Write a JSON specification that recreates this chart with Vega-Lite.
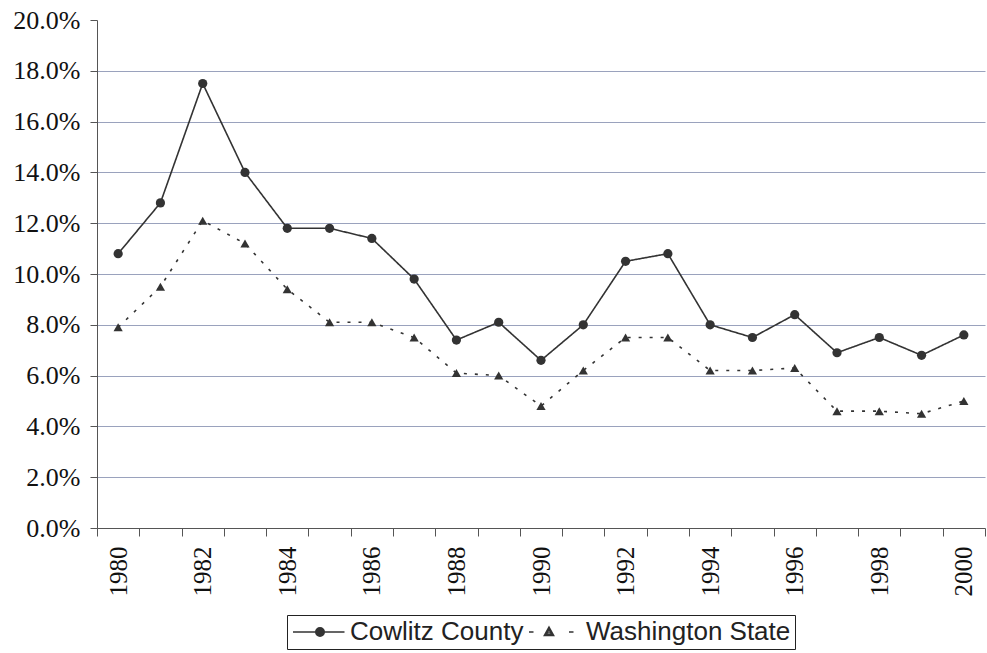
{
  "$schema": "https://vega.github.io/schema/vega-lite/v6.json",
  "width": 888,
  "height": 508,
  "autosize": {"type": "none"},
  "padding": {"left": 97, "top": 20, "right": 2, "bottom": 125},
  "background": "white",
  "config": {
    "view": {"stroke": null},
    "axis": {"domainColor": "#555", "tickColor": "#555", "labelColor": "#111"},
    "legend": {"layout": {"bottom": {"anchor": "middle"}}}
  },
  "data": {
    "values": [
      {"year": 1980, "region": "Cowlitz County", "rate": 0.108},
      {"year": 1981, "region": "Cowlitz County", "rate": 0.128},
      {"year": 1982, "region": "Cowlitz County", "rate": 0.175},
      {"year": 1983, "region": "Cowlitz County", "rate": 0.140},
      {"year": 1984, "region": "Cowlitz County", "rate": 0.118},
      {"year": 1985, "region": "Cowlitz County", "rate": 0.118},
      {"year": 1986, "region": "Cowlitz County", "rate": 0.114},
      {"year": 1987, "region": "Cowlitz County", "rate": 0.098},
      {"year": 1988, "region": "Cowlitz County", "rate": 0.074},
      {"year": 1989, "region": "Cowlitz County", "rate": 0.081},
      {"year": 1990, "region": "Cowlitz County", "rate": 0.066},
      {"year": 1991, "region": "Cowlitz County", "rate": 0.080},
      {"year": 1992, "region": "Cowlitz County", "rate": 0.105},
      {"year": 1993, "region": "Cowlitz County", "rate": 0.108},
      {"year": 1994, "region": "Cowlitz County", "rate": 0.080},
      {"year": 1995, "region": "Cowlitz County", "rate": 0.075},
      {"year": 1996, "region": "Cowlitz County", "rate": 0.084},
      {"year": 1997, "region": "Cowlitz County", "rate": 0.069},
      {"year": 1998, "region": "Cowlitz County", "rate": 0.075},
      {"year": 1999, "region": "Cowlitz County", "rate": 0.068},
      {"year": 2000, "region": "Cowlitz County", "rate": 0.076},
      {"year": 1980, "region": "Washington State", "rate": 0.079},
      {"year": 1981, "region": "Washington State", "rate": 0.095},
      {"year": 1982, "region": "Washington State", "rate": 0.121},
      {"year": 1983, "region": "Washington State", "rate": 0.112},
      {"year": 1984, "region": "Washington State", "rate": 0.094},
      {"year": 1985, "region": "Washington State", "rate": 0.081},
      {"year": 1986, "region": "Washington State", "rate": 0.081},
      {"year": 1987, "region": "Washington State", "rate": 0.075},
      {"year": 1988, "region": "Washington State", "rate": 0.061},
      {"year": 1989, "region": "Washington State", "rate": 0.060},
      {"year": 1990, "region": "Washington State", "rate": 0.048},
      {"year": 1991, "region": "Washington State", "rate": 0.062},
      {"year": 1992, "region": "Washington State", "rate": 0.075},
      {"year": 1993, "region": "Washington State", "rate": 0.075},
      {"year": 1994, "region": "Washington State", "rate": 0.062},
      {"year": 1995, "region": "Washington State", "rate": 0.062},
      {"year": 1996, "region": "Washington State", "rate": 0.063},
      {"year": 1997, "region": "Washington State", "rate": 0.046},
      {"year": 1998, "region": "Washington State", "rate": 0.046},
      {"year": 1999, "region": "Washington State", "rate": 0.045},
      {"year": 2000, "region": "Washington State", "rate": 0.050}
    ]
  },
  "encoding": {
    "x": {
      "field": "year",
      "type": "ordinal",
      "scale": {"type": "band", "paddingInner": 0, "paddingOuter": 0},
      "axis": {
        "title": null,
        "tickBand": "extent",
        "tickSize": 8,
        "labelAngle": -90,
        "labelPadding": 10,
        "labelFont": "Liberation Serif",
        "labelFontSize": 25,
        "labelExpr": "datum.value % 2 == 0 ? datum.label : ''",
        "grid": false
      }
    },
    "y": {
      "field": "rate",
      "type": "quantitative",
      "scale": {"domain": [0, 0.2], "nice": false},
      "axis": {
        "title": null,
        "format": ".1%",
        "values": [0, 0.02, 0.04, 0.06, 0.08, 0.1, 0.12, 0.14, 0.16, 0.18, 0.2],
        "tickSize": 7,
        "labelPadding": 10,
        "labelFont": "Liberation Serif",
        "labelFontSize": 26,
        "grid": true,
        "gridColor": "#9aa2bd",
        "gridOpacity": {"condition": {"test": "datum.value >= 0.199 || datum.value <= 0.001", "value": 0}, "value": 1}
      }
    }
  },
  "layer": [
    {
      "mark": {"type": "line", "color": "#333", "strokeWidth": 1.6},
      "encoding": {
        "detail": {"field": "region", "type": "nominal"},
        "strokeDash": {
          "condition": {"test": "datum.region == 'Washington State'", "value": [3, 8]},
          "value": [1, 0]
        }
      }
    },
    {
      "mark": {"type": "point", "filled": true, "color": "#333", "opacity": 1, "size": 85},
      "encoding": {
        "shape": {
          "condition": {"test": "datum.region == 'Cowlitz County'", "value": "circle"},
          "value": "triangle-up"
        }
      }
    },
    {
      "mark": {"type": "point", "filled": false, "color": "#333", "strokeWidth": 1.5, "opacity": 0, "size": 100},
      "encoding": {
        "shape": {
          "field": "region",
          "type": "nominal",
          "scale": {
            "domain": ["Cowlitz County", "Washington State"],
            "range": [
              "M-5.4,0H-0.85M0.85,0H4.9M0.85,0A0.85,0.85 0 1 1 -0.85,0A0.85,0.85 0 1 1 0.85,0M0.55,0A0.55,0.55 0 1 1 -0.55,0A0.55,0.55 0 1 1 0.55,0M0.25,0A0.25,0.25 0 1 1 -0.25,0A0.25,0.25 0 1 1 0.25,0M-0.15,0H0.15",
              "M-5.4,0H-4.5M2.6,0H3.5M-1.4,-1.0L-0.465,0.7L-2.335,0.7ZM-1.4,-0.47L-0.9,0.43L-1.9,0.43ZM-1.4,0.05V0.25"
            ]
          },
          "legend": {
            "title": null,
            "orient": "bottom",
            "direction": "horizontal",
            "offset": 19,
            "padding": 4,
            "strokeColor": "#222",
            "labelFont": "Liberation Sans",
            "labelFontSize": 26,
            "labelColor": "#222",
            "labelLimit": 0,
            "labelOffset": 17,
            "symbolOffset": 16,
            "columnPadding": 2,
            "symbolSize": 100,
            "symbolOpacity": 1,
            "symbolStrokeColor": "#333",
            "symbolStrokeWidth": 1.5
          }
        }
      }
    }
  ]
}
